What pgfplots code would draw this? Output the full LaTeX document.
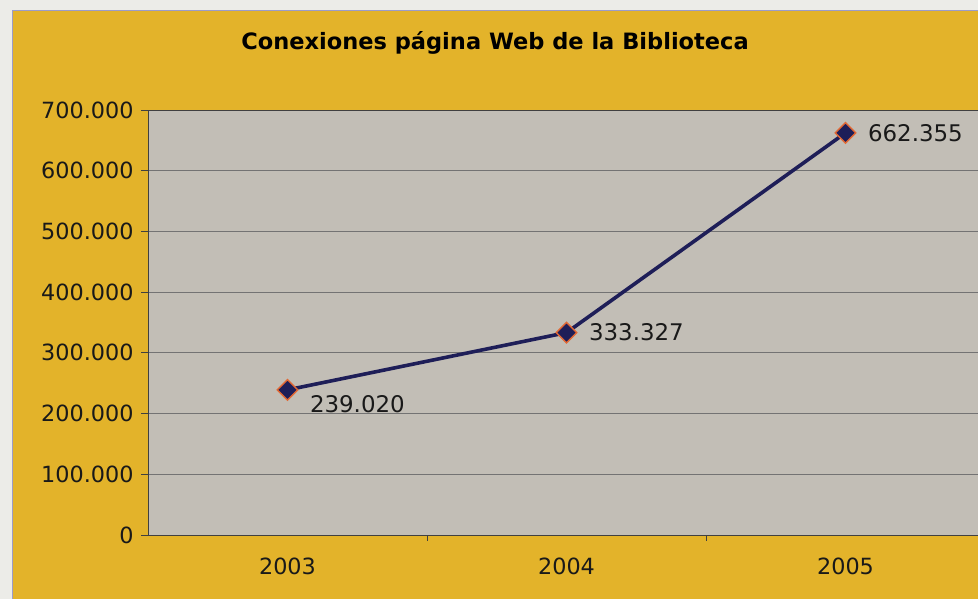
\documentclass[border=0pt]{standalone}
\usepackage{pgfplots}
\pgfplotsset{compat=1.18}
\usepackage{fontspec}
\setmainfont{DejaVu Sans}
\definecolor{paper}{RGB}{236,236,232}
\definecolor{gold}{RGB}{227,179,42}
\definecolor{plotgray}{RGB}{194,190,182}
\definecolor{navy}{RGB}{30,30,88}
\definecolor{edge}{RGB}{226,104,52}
\begin{document}
\begin{tikzpicture}[x=1bp,y=1bp]
\useasboundingbox (0,0) rectangle (978,599);
\fill[paper] (0,0) rectangle (978,599);
\fill[gold] (12,0) rectangle (980,589);
\draw[gray!70!blue!60, line width=0.8bp] (12,0) -- (12,589) -- (980,589);
\node[font=\bfseries\fontsize{22.6}{27}\selectfont] at (495,556) {Conexiones página Web de la Biblioteca};
\begin{axis}[
    at={(148bp,64bp)}, anchor=south west,
    scale only axis, width=837bp, height=425bp,
    xmin=0.5, xmax=3.5, ymin=0, ymax=700000,
    axis background/.style={fill=plotgray},
    axis line style={black!75, line width=0.8bp},
    xtick={1,2,3}, xticklabels={2003,2004,2005},
    minor xtick={1.5,2.5},
    xtick pos=bottom, ytick pos=left, tick align=outside,
    major x tick style={draw=none},
    minor tick length=6bp, major tick length=7bp,
    tick style={black!75, line width=0.8bp},
    ytick={0,100000,200000,300000,400000,500000,600000,700000},
    yticklabels={0,100.000,200.000,300.000,400.000,500.000,600.000,700.000},
    scaled y ticks=false,
    ymajorgrids, grid style={black!55, line width=0.8bp},
    ticklabel style={font=\fontsize{22.4}{26}\selectfont, text=black!90},
    xticklabel style={yshift=-12bp},
    yticklabel style={xshift=-4bp},
    clip=false,
]
\addplot[navy, line width=3.6bp, mark=square*, mark size=7.2bp,
    mark options={fill=navy, draw=edge, line width=1.4bp, rotate=45}]
    coordinates {(1,239020) (2,333327) (3,662355)};
\begin{scope}[font=\fontsize{23}{27}\selectfont, text=black!90]
\node[anchor=west] at (axis cs:1,239020) [xshift=19bp, yshift=-14bp] {239.020};
\node[anchor=west] at (axis cs:2,333327) [xshift=19bp] {333.327};
\node[anchor=west] at (axis cs:3,662355) [xshift=19bp] {662.355};
\end{scope}
\end{axis}
\end{tikzpicture}
\end{document}
